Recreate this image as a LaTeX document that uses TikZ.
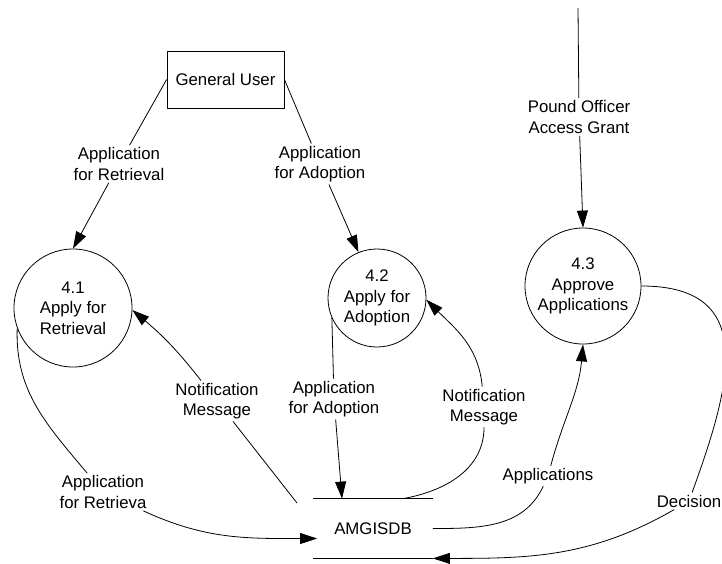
\documentclass[tikz,border=0pt]{standalone}
\usepackage{fontspec}
\setmainfont{Liberation Sans}
\usetikzlibrary{arrows.meta}

\tikzset{
  every node/.style={font=\fontsize{16.8}{20.5}\selectfont},
  proc/.style={circle, draw, align=center, inner sep=0pt},
  ent/.style={rectangle, draw, minimum width=117pt, minimum height=57pt},
  store/.style={minimum width=119pt, minimum height=59pt},
  lbl/.style={align=center, inner sep=2pt},
  flow/.style={-{Triangle[length=17pt,width=11pt]}},
}

\begin{document}
\begin{tikzpicture}[x=1pt,y=-1pt,line width=0.8pt]
    \useasboundingbox (0,0) rectangle (722,563);
    \clip (0,0) rectangle (722,563);
    \node[ent] (gu) at (225.5,79.5) {General User};
    \node[proc, minimum size=118pt] (p41) at (73,308) {4.1\\Apply for\\Retrieval};
    \node[proc, minimum size=98pt] (p42) at (377,298) {4.2\\Apply for\\Adoption};
    \node[proc, minimum size=116pt] (p43) at (583,286) {4.3\\Approve\\Applications};
    \node[store] (ds) at (373,528.5) {AMGISDB};
    \draw (ds.north west) -- (ds.north east);
    \draw (ds.south west) -- (ds.south east);
    \coordinate (src) at (578,8);
    \coordinate (c1) at (297,503);
    % flow labels
    \node[lbl] (l1) at (119,164) {Application\\for Retrieval};
    \node[lbl] (l2) at (320,164) {Application\\for Adoption};
    \node[lbl] (l3) at (579,117) {Pound Officer\\Access Grant};
    \node[lbl] (l4) at (217,401) {Notification\\Message};
    \node[lbl] (l5) at (334,399) {Application\\for Adoption};
    \node[lbl] (l6) at (484,407) {Notification\\Message};
    \node[lbl] (l7) at (548,476) {Applications};
    \node[lbl] (l8) at (689,501) {Decision};
    \node[lbl] (l9) at (103,492) {Application\\for Retrieva};
    % flows
    \draw[flow] (gu.west) -- (l1) -- (p41.north);
    \draw[flow] (gu.east) -- (l2) -- (p42.112);
    \draw[flow] (src) -- (l3) -- (p43.north);
    \draw[flow] (p41.200) to[out=-92,in=130] (l9) to[out=-25,in=180] ([shift={(4pt,-10pt)}]ds.west);
    \draw[flow] (c1) -- (l4) to[out=128,in=-40] (p41.-2);
    \draw[flow] (p42.204) -- (l5) -- ([xshift=-31pt]ds.north);
    \draw[flow] ([xshift=30pt]ds.north) to[out=10,in=-90] (l6) to[out=95,in=-45] (p42.-2);
    \draw[flow] (ds.east) to[out=0,in=-115] (l7) to[out=75,in=-95] (p43.south);
    \draw[flow] (p43.east) to[out=0,in=70,looseness=1.4] (l8) to[out=-150,in=0] (ds.south east);
\end{tikzpicture}
\end{document}
